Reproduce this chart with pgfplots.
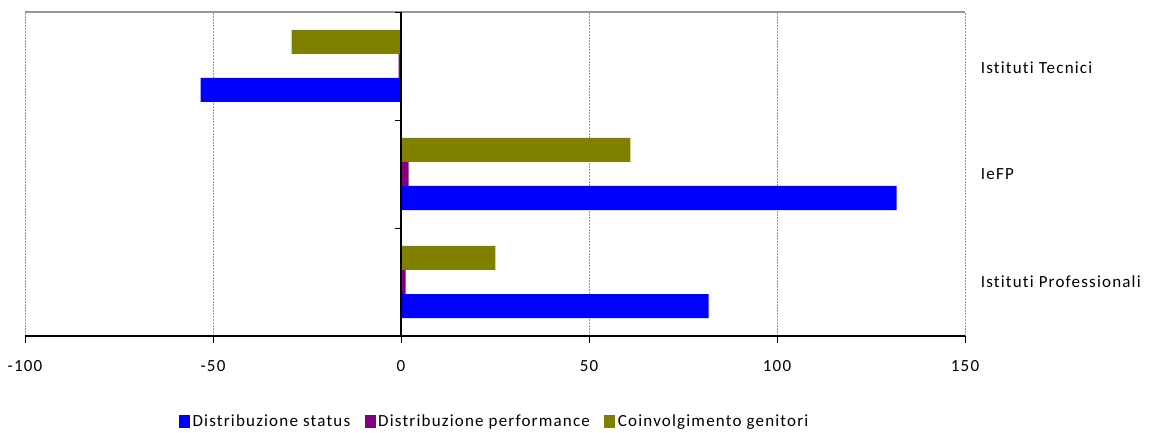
\documentclass[border=0pt]{standalone}
\usepackage{fontspec}
\setmainfont{Carlito}[LetterSpace=7, Ligatures=CommonOff]
\usepackage{pgfplots}
\pgfplotsset{compat=1.18}

\definecolor{cstatus}{RGB}{0,0,255}
\definecolor{cperf}{RGB}{128,0,128}
\definecolor{cgen}{RGB}{128,128,0}
\definecolor{framegray}{RGB}{150,150,150}

\begin{document}
\fontsize{17}{20}\selectfont
\begin{tikzpicture}[font=\fontsize{17}{20}\selectfont]
\begin{axis}[
    name=ax,
    scale only axis,
    width=940pt, height=324pt,
    xbar=0pt,
    bar width=24pt,
    xmin=-100, xmax=150,
    ymin=-0.5, ymax=2.5,
    axis x line*=bottom,
    axis y line=none,
    x axis line style={line width=1.2pt, black},
    xtick={-100,-50,0,50,100,150},
    xticklabels={-100,-50,0,50,100,150},
    tick align=outside,
    major tick length=7pt,
    x tick style={black, line width=0.8pt},
    xticklabel style={yshift=-12pt},
    ytick=\empty,
    xmajorgrids,
    grid style={framegray, line width=0.8pt, dash pattern=on 2pt off 1pt},
    clip=false,
    legend columns=3,
    legend style={draw=none, at={(0.5,-0.265)}, anchor=center,
        /tikz/every even column/.append style={column sep=12pt},
        nodes={inner sep=2.5pt}},
    legend image code/.code={\fill[#1] (0pt,-6.5pt) rectangle (11pt,6.5pt);},
]
% y: 0 = Istituti Professionali, 1 = IeFP, 2 = Istituti Tecnici
\addplot[fill=cstatus, draw=none] coordinates {(81.8,0) (131.8,1) (-53.3,2)};
\addlegendentry{Distribuzione status}
\addplot[fill=cperf, draw=none] coordinates {(1.2,0) (2.0,1) (-0.6,2)};
\addlegendentry{Distribuzione performance}
\addplot[fill=cgen, draw=none] coordinates {(25.1,0) (61.0,1) (-29.1,2)};
\addlegendentry{Coinvolgimento genitori}

% frame top and vertical axis at zero
\draw[framegray, line width=1.2pt] (axis cs:-100,2.5) -- (axis cs:150,2.5);
\draw[black, line width=1.2pt] (axis cs:0,-0.5) -- (axis cs:0,2.5);
\draw[black, line width=0.8pt] (axis cs:0,2.5) -- ([xshift=-6pt]axis cs:0,2.5);
\draw[black, line width=0.8pt] (axis cs:0,1.5) -- ([xshift=-6pt]axis cs:0,1.5);
\draw[black, line width=0.8pt] (axis cs:0,0.5) -- ([xshift=-6pt]axis cs:0,0.5);
\draw[black, line width=0.8pt] (axis cs:0,-0.5) -- ([xshift=-6pt]axis cs:0,-0.5);

% category names
\node[anchor=west, xshift=10pt, yshift=-2pt] at (axis cs:150,2) {Istituti Tecnici};
\node[anchor=west, xshift=10pt] at (axis cs:150,1) {IeFP};
\node[anchor=west, xshift=10pt] at (axis cs:150,0) {Istituti Professionali};
\end{axis}
\pgfresetboundingbox
\path[use as bounding box] ([xshift=-25pt,yshift=-97pt]ax.south west) rectangle ([xshift=185pt,yshift=12pt]ax.north east);
\end{tikzpicture}
\end{document}
